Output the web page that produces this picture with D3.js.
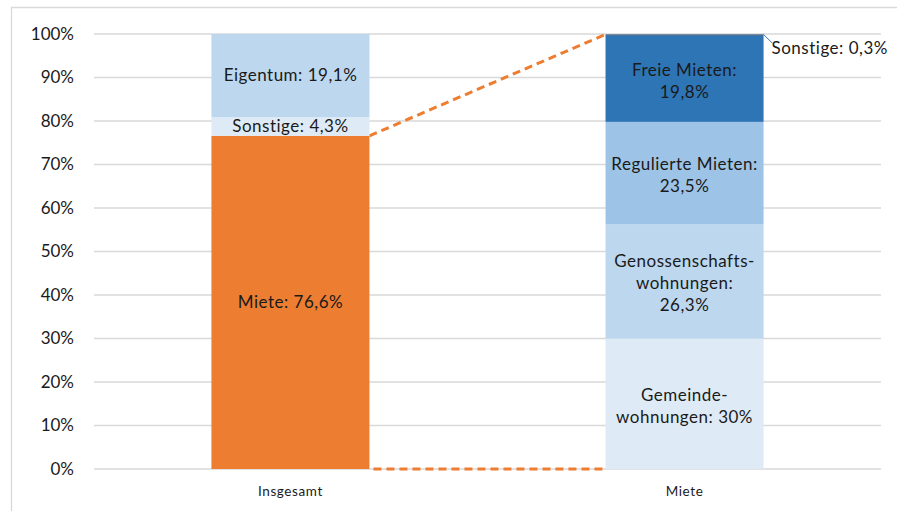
<!DOCTYPE html>
<html lang="de">
<head>
<meta charset="UTF-8">
<script src="https://cdn.jsdelivr.net/npm/d3@7"></script>
<title>Wohnformen</title>
<style>
    body { margin: 0; background: #fff; }
    svg { display: block; font-family: Lato, "Noto Sans", sans-serif; }
    .grid line { stroke: #d9d9d9; stroke-width: 1.3px; }
    .seg-label { font-size: 17px; letter-spacing: 0.5px; fill: #1a1a1a; }
</style>
</head>
<body>
<script>
    // ---------------- data ----------------
    const categories = ["Insgesamt", "Miete"];

    // stack on the "Insgesamt" bar, bottom to top
    const totalNames = ["Miete", "Sonstige", "Eigentum"];
    const totalValues = [76.6, 4.3, 19.1];
    const totalLabels = [["Miete: 76,6%"], ["Sonstige: 4,3%"], ["Eigentum: 19,1%"]];

    // stack on the "Miete" bar, bottom to top
    const rentNames = ["Gemeindewohnungen", "Genossenschaftswohnungen", "Regulierte Mieten", "Freie Mieten", "Sonstige"];
    const rentValues = [30, 26.3, 23.5, 19.8, 0.3];
    const rentLabels = [
        ["Gemeinde-", "wohnungen: 30%"],
        ["Genossenschafts-", "wohnungen:", "26,3%"],
        ["Regulierte Mieten:", "23,5%"],
        ["Freie Mieten:", "19,8%"],
        ["Sonstige: 0,3%"]
    ];

    const yTicks = [0, 10, 20, 30, 40, 50, 60, 70, 80, 90, 100];

    const totalColors = ["#ed7d31", "#deebf7", "#bdd7ee"];
    const rentColors = ["#deebf7", "#bdd7ee", "#9dc3e6", "#2e75b6", "#1f4e79"];

    // ---------------- layout ----------------
    const W = 897, H = 511;
    const plot = { left: 94, right: 881, top: 34, bottom: 469 };

    const svg = d3.select("body").append("svg")
        .attr("width", W)
        .attr("height", H);

    // chart frame (only the top and left edges are visible)
    svg.append("path")
        .attr("d", `M11.5,${H} V7.5 H${W}`)
        .attr("fill", "none")
        .attr("stroke", "#d9d9d9")
        .attr("stroke-width", 1.3);

    const x = d3.scaleBand()
        .domain(categories)
        .range([plot.left, plot.right])
        .paddingInner(0.599)
        .paddingOuter(0.298);

    const y = d3.scaleLinear()
        .domain([0, 100])
        .range([plot.bottom, plot.top]);

    // gridlines
    svg.append("g").attr("class", "grid")
        .selectAll("line")
        .data(yTicks)
        .join("line")
        .attr("x1", plot.left)
        .attr("x2", plot.right)
        .attr("y1", d => y(d))
        .attr("y2", d => y(d));

    // y axis labels
    const yAxis = d3.axisLeft(y)
        .tickValues(yTicks)
        .tickFormat(d => d + "%")
        .tickSize(0)
        .tickPadding(0);
    const yg = svg.append("g")
        .attr("transform", `translate(74,0)`)
        .call(yAxis);
    yg.select(".domain").remove();
    yg.selectAll("text")
        .attr("font-size", 17)
        .attr("font-family", "Lato, 'Noto Sans', sans-serif")
        .attr("fill", "#1a1a1a");

    // x axis labels
    const xAxis = d3.axisBottom(x).tickSize(0).tickPadding(0);
    const xg = svg.append("g")
        .attr("transform", `translate(0,${plot.bottom + 17})`)
        .call(xAxis);
    xg.select(".domain").remove();
    xg.selectAll("text")
        .attr("font-size", 13.5)
        .attr("letter-spacing", "0.6px")
        .attr("font-family", "Lato, 'Noto Sans', sans-serif")
        .attr("fill", "#1a1a1a");

    // build stacks
    function stackOf(values, names, labels, colors) {
        let acc = 0;
        return values.map((v, i) => {
            const s = { name: names[i], y0: acc, y1: acc + v, label: labels[i], color: colors[i] };
            acc += v;
            return s;
        });
    }
    const totalStack = stackOf(totalValues, totalNames, totalLabels, totalColors);
    const rentStack = stackOf(rentValues, rentNames, rentLabels, rentColors);

    // series lines (Miete part of Insgesamt -> Miete bar)
    const xR1 = x("Insgesamt") + x.bandwidth();
    const xL2 = x("Miete");
    const rentTotal = d3.sum(rentValues);
    const seriesLines = [
        [[xR1, y(totalStack[0].y1)], [xL2, y(rentTotal)]],
        [[xR1 + 4, y(0)], [xL2, y(0)]]
    ];
    svg.append("g")
        .selectAll("path")
        .data(seriesLines)
        .join("path")
        .attr("d", d => d3.line()(d))
        .attr("fill", "none")
        .attr("stroke", "#ed7d31")
        .attr("stroke-width", 3)
        .attr("stroke-dasharray", "8,5");

    function drawBar(cat, stack) {
        const g = svg.append("g");
        g.selectAll("rect")
            .data(stack)
            .join("rect")
            .attr("x", x(cat))
            .attr("width", x.bandwidth())
            .attr("y", d => y(d.y1))
            .attr("height", d => y(d.y0) - y(d.y1))
            .attr("fill", d => d.color);
        return g;
    }
    drawBar("Insgesamt", totalStack);
    drawBar("Miete", rentStack);

    const lineH = 22;
    function drawLabels(cat, stack, shift) {
        const cx = x(cat) + x.bandwidth() / 2;
        stack.forEach(d => {
            const cy = (y(d.y0) + y(d.y1)) / 2 + shift;
            const t = svg.append("text")
                .attr("class", "seg-label")
                .attr("text-anchor", "middle")
                .attr("x", cx)
                .attr("y", cy - (d.label.length - 1) * lineH / 2);
            d.label.forEach((ln, i) => {
                t.append("tspan")
                    .attr("x", cx)
                    .attr("dy", i === 0 ? "0.35em" : lineH)
                    .text(ln);
            });
        });
    }
    drawLabels("Insgesamt", totalStack, 0);
    // the tiny "Sonstige 0,3%" sits outside the bar with a leader line
    drawLabels("Miete", rentStack.slice(0, 4), 2);

    const topSeg = rentStack[4];
    const lx = x("Miete") + x.bandwidth();
    svg.append("line")
        .attr("x1", lx)
        .attr("y1", y(topSeg.y1))
        .attr("x2", lx + 9)
        .attr("y2", y(topSeg.y1) + 9)
        .attr("stroke", "#4472c4")
        .attr("stroke-width", 1);
    svg.append("text")
        .attr("class", "seg-label")
        .attr("letter-spacing", "0px")
        .attr("x", lx + 8)
        .attr("y", y(topSeg.y1) + 14)
        .attr("dy", "0.35em")
        .text(topSeg.label[0]);
</script>
</body>
</html>
